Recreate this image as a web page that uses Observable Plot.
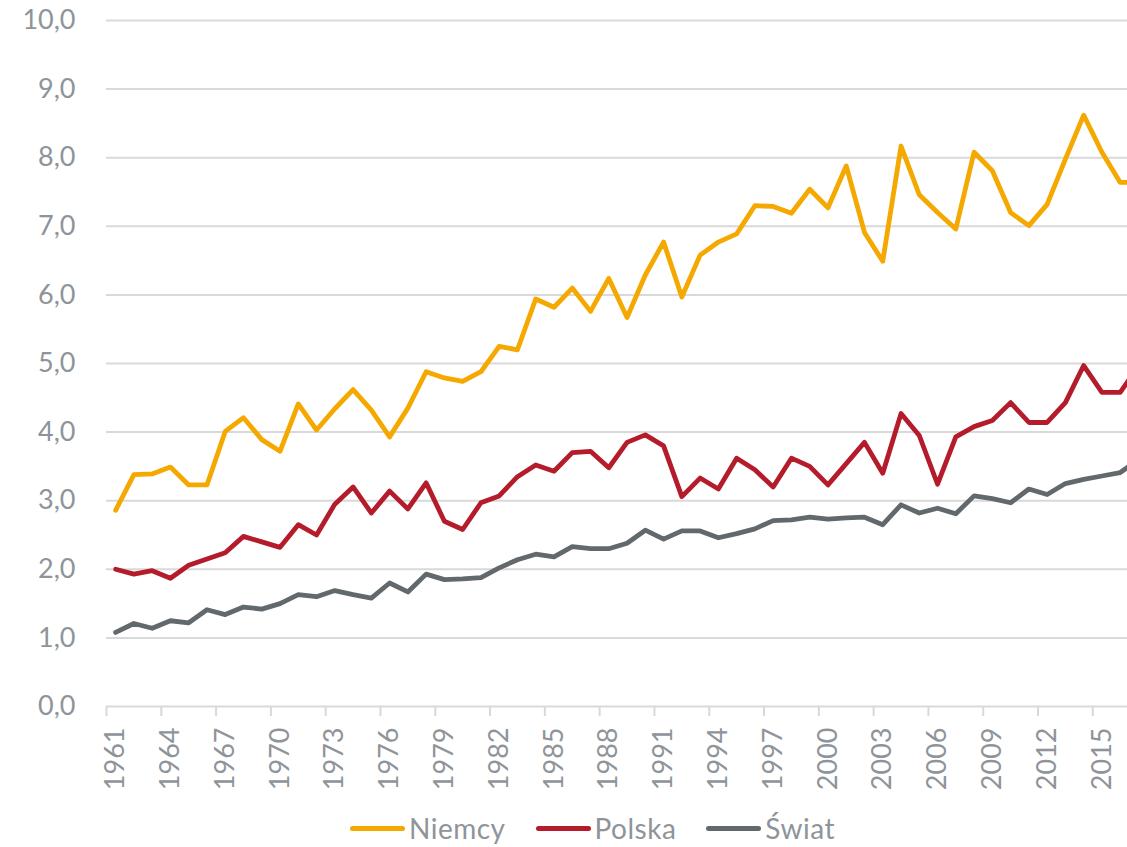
<!DOCTYPE html>
<html>
<head>
<meta charset="utf-8">
<script src="https://cdn.jsdelivr.net/npm/d3@7"></script>
<script src="https://cdn.jsdelivr.net/npm/@observablehq/plot@0.6"></script>
<style>
  html, body { margin: 0; padding: 0; background: #fff; }
  #wrap { position: relative; width: 1127px; height: 847px; overflow: hidden; font-family: Lato, "Open Sans", sans-serif; }
  #legend { position: absolute; left: 350px; top: 810px; height: 36px; display: flex; align-items: center; font-size: 28px; line-height: 30px; letter-spacing: 0.5px; color: #8e9499; white-space: nowrap; }
  .item { display: flex; align-items: center; margin-right: 30px; }
  .sw { width: 55px; height: 5px; border-radius: 3px; margin-right: 4px; }
</style>
</head>
<body>
<div id="wrap"><div id="chart"></div><div id="legend"></div></div>
<script>
const years = d3.range(1961, 2018);
const niemcy = [2.86,3.38,3.39,3.49,3.23,3.23,4.01,4.21,3.89,3.72,4.41,4.03,4.34,4.62,4.32,3.93,4.35,4.88,4.79,4.74,
  4.88,5.25,5.20,5.94,5.82,6.10,5.76,6.24,5.67,6.29,6.77,5.97,6.58,6.77,6.89,7.30,7.29,7.19,7.54,7.27,
  7.88,6.91,6.49,8.17,7.46,7.20,6.96,8.08,7.81,7.20,7.01,7.32,7.98,8.62,8.08,7.64,7.64];
const polska = [2.00,1.93,1.98,1.87,2.06,2.15,2.24,2.48,2.40,2.32,2.65,2.50,2.95,3.20,2.82,3.14,2.88,3.26,2.70,2.58,
  2.97,3.07,3.35,3.52,3.43,3.70,3.72,3.48,3.85,3.96,3.80,3.06,3.33,3.17,3.62,3.45,3.20,3.62,3.50,3.23,
  3.54,3.85,3.40,4.27,3.95,3.24,3.93,4.08,4.17,4.43,4.14,4.14,4.43,4.97,4.58,4.58,4.96];
const swiat = [1.08,1.21,1.14,1.25,1.22,1.41,1.34,1.45,1.42,1.50,1.63,1.60,1.69,1.63,1.58,1.80,1.67,1.93,1.85,1.86,
  1.88,2.02,2.14,2.22,2.18,2.33,2.30,2.30,2.38,2.57,2.44,2.56,2.56,2.46,2.52,2.59,2.71,2.72,2.76,2.73,
  2.75,2.76,2.65,2.94,2.82,2.89,2.81,3.07,3.03,2.97,3.17,3.09,3.25,3.31,3.36,3.41,3.60];
const seriesNames = ["Niemcy", "Polska", "Świat"];
const seriesColors = ["#F5A800", "#B41C2B", "#62696C"];
const yTicks = d3.range(0, 11, 1);
const xLabelYears = d3.range(1961, 2017, 3);
const xTickBounds = d3.range(1960.5, 2017, 3);

const seriesValues = [niemcy, polska, swiat];
const data = [];
seriesNames.forEach((name, i) => {
  years.forEach((yr, j) => data.push({series: name, year: yr, value: seriesValues[i][j]}));
});

const gray = "#8e9499";
const plot = Plot.plot({
  width: 1127,
  height: 810,
  marginTop: 20,
  marginBottom: 104,
  marginLeft: 106,
  marginRight: 0,
  style: {fontFamily: "Lato, 'Open Sans', sans-serif", fontSize: "27px", color: gray, background: "#fff"},
  x: {domain: [1960.5, 2016.4]},
  y: {domain: [0, 10]},
  color: {domain: seriesNames, range: seriesColors},
  marks: [
    Plot.gridY(yTicks, {stroke: "#d9d9d9", strokeOpacity: 1, strokeWidth: 2}),
    Plot.axisY(yTicks, {tickSize: 0, tickPadding: 31, tickFormat: d => d.toFixed(1).replace(".", ","), fill: gray, label: null, fontSize: 27}),
    Plot.axisX(xTickBounds, {tickSize: 10, tickFormat: () => "", stroke: "#d9d9d9", strokeWidth: 2, strokeOpacity: 1, label: null}),
    Plot.axisX(xLabelYears, {tickSize: 0, tickPadding: 21, tickRotate: -90, tickFormat: d => String(d), fill: gray, label: null, fontSize: 27}),
    Plot.line(data, {x: "year", y: "value", z: "series", stroke: "series", strokeWidth: 4.8, strokeLinejoin: "round", strokeLinecap: "round", clip: true})
  ]
});
document.getElementById("chart").appendChild(plot);

const legend = document.getElementById("legend");
seriesNames.forEach((name, i) => {
  const it = document.createElement("div");
  it.className = "item";
  const sw = document.createElement("span");
  sw.className = "sw";
  sw.style.background = seriesColors[i];
  const tx = document.createElement("span");
  tx.textContent = name;
  it.appendChild(sw); it.appendChild(tx);
  legend.appendChild(it);
});
</script>
</body>
</html>
